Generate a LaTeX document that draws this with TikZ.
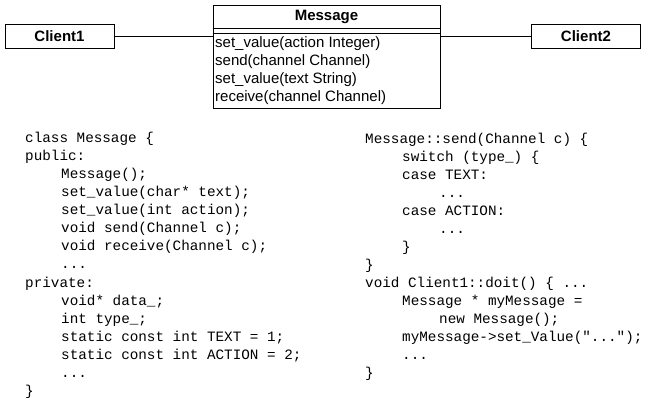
\documentclass[tikz,border=0pt]{standalone}
\usepackage{fontspec}
\setmainfont{Liberation Sans}
\newfontfamily\codefont{Liberation Mono}
\usetikzlibrary{positioning}
\newcommand\codedots{...}
\tikzset{
  umlbox/.style={draw,line width=1pt,minimum width=109pt,minimum height=24pt,inner sep=0pt,
    font=\fontsize{15}{18}\selectfont\bfseries},
  method/.style={anchor=base west,inner sep=0pt,font=\fontsize{15}{18}\selectfont},
  codeline/.style={anchor=base west,inner sep=0pt,font=\codefont\fontsize{14.3}{18}\selectfont},
}
\begin{document}
\begin{tikzpicture}[x=1pt,y=-1pt]
  \useasboundingbox (0,0) rectangle (657,407);
  % class diagram
  \node[umlbox] (client1) at (59.5,36) {Client1};
  \node[umlbox] (client2) at (586,36) {Client2};
  \node[draw,line width=1pt,minimum width=227pt,minimum height=103pt,inner sep=0pt] (msg) at (326.5,56.5) {};
  \node[font=\fontsize{15}{18}\selectfont\bfseries] (msgname) at (326.5,17) {Message};
  \draw[line width=1pt] ([yshift=-24pt]msg.north west) -- ([yshift=-24pt]msg.north east);
  \draw[line width=1pt] ([yshift=-29pt]msg.north west) -- ([yshift=-29pt]msg.north east);
  \foreach \txt [count=\n] in {set\_value(action Integer), send(channel Channel),
      set\_value(text String), receive(channel Channel)}
    \node[method] (m\n) at (215,29+18*\n) {\txt};
  \draw[line width=1pt] (client1.east) -- (client1.east -| msg.west);
  \draw[line width=1pt] (client2.west) -- (client2.west -| msg.east);
  % code, left column
  \foreach \i/\txt [count=\n from 0] in {0/class Message \{, 0/public:, 1/Message();,
      1/set\_value(char* text);, 1/set\_value(int action);, 1/void send(Channel c);,
      1/void receive(Channel c);, 1/\codedots, 0/private:, 1/void* data\_;, 1/int type\_;,
      1/static const int TEXT = 1;, 1/static const int ACTION = 2;, 1/\codedots, 0/\}}
    \node[codeline] (left\n) at (25+36*\i,142.5+18.07*\n) {\txt};
  % code, right column
  \foreach \i/\txt [count=\n from 0] in {0/Message::send(Channel c) \{, 1/switch (type\_) \{,
      1/case TEXT:, 2/\codedots, 1/case ACTION:, 2/\codedots, 1/\}, 0/\},
      0/void Client1::doit() \{ \codedots, 1/Message * myMessage =, 2/new Message();,
      1/myMessage->set\_Value("\codedots");, 1/\codedots, 0/\}}
    \node[codeline] (right\n) at (365+37*\i,143+18*\n) {\txt};
\end{tikzpicture}
\end{document}
